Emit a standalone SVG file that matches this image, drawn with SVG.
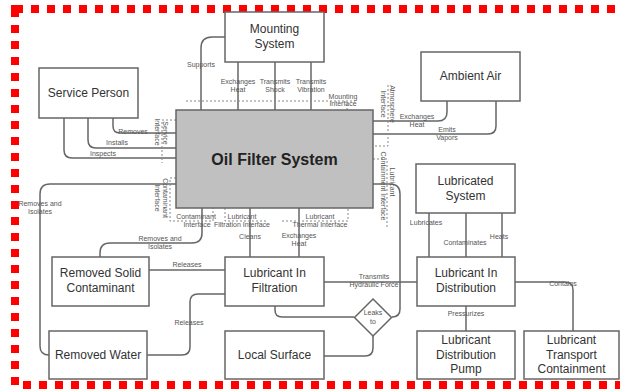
<svg xmlns="http://www.w3.org/2000/svg" width="620" height="390" viewBox="0 0 620 390">
<style>
.box{fill:#fff;stroke:#666;stroke-width:1.5}
.core{fill:#c0c0c0;stroke:#666;stroke-width:1.5}
.t{font-family:"Liberation Sans",Arial,sans-serif;font-size:12px;fill:#333;text-anchor:middle}
.tb{font-family:"Liberation Sans",Arial,sans-serif;font-size:16px;font-weight:bold;fill:#222;text-anchor:middle}
.l{font-family:"Liberation Sans",Arial,sans-serif;font-size:7px;fill:#555;text-anchor:middle}
.c{fill:none;stroke:#666;stroke-width:1.5}
.d{fill:none;stroke:#888;stroke-width:1;stroke-dasharray:2,2}
</style>
<rect x="15" y="9" width="620" height="376" fill="none" stroke="#ff0000" stroke-width="8" stroke-dasharray="8,8"/>
<g id="connectors">
<path class="c" d="M225,37 H212 Q201,37 201,48 V110"/>
<path class="c" d="M238,62 V110"/>
<path class="c" d="M275,62 V110"/>
<path class="c" d="M311,62 V110"/>
<path class="c" d="M447,101 V112 Q447,121 438,121 H373"/>
<path class="c" d="M496,101 V126 Q496,134 488,134 H373"/>
<path class="c" d="M113,118 V126 Q113,133 120,133 H176"/>
<path class="c" d="M88,118 V140 Q88,148 96,148 H176"/>
<path class="c" d="M64,118 V150 Q64,158 72,158 H176"/>
<path class="c" d="M176,184 H50 Q40,184 40,194 V346 Q40,355 49,355"/>
<path class="c" d="M202,208 V233 Q202,243 192,243 H110 Q100,243 100,253 V257"/>
<path class="c" d="M149,270 H225"/>
<path class="c" d="M147,355 H182 Q190,355 190,347 V302 Q190,294 198,294 H225"/>
<path class="c" d="M250,208 V257"/>
<path class="c" d="M299,208 V257"/>
<path class="c" d="M324,282 H417"/>
<path class="c" d="M275,306 V310 Q275,317 282,317 H354"/>
<path class="c" d="M373,336 V348 Q373,356 365,356 H324"/>
<path class="c" d="M373,184 H390 Q400,184 400,194 V309 Q400,317 392,317"/>
<path class="c" d="M429,213 V257"/>
<path class="c" d="M466,213 V257"/>
<path class="c" d="M502,213 V257"/>
<path class="c" d="M466,306 V331"/>
<path class="c" d="M515,282 H565 Q573,282 573,290 V331"/>
<path class="d" d="M186,101 H355"/>
<path class="d" d="M347,104 V110"/>
<path class="d" d="M388,85 V146 H373"/>
<path class="d" d="M176,120 H162 V163"/>
<path class="d" d="M176,178 H170 V221 H213 V208"/>
<path class="d" d="M225,208 V221 H268"/>
<path class="d" d="M282,221 H348 V208"/>
<path class="d" d="M373,159 H387 V227"/>
<text class="l" x="201" y="67">Supports</text>
<text class="l" x="238" y="84">Exchanges</text><text class="l" x="238" y="92">Heat</text>
<text class="l" x="275" y="84">Transmits</text><text class="l" x="275" y="92">Shock</text>
<text class="l" x="311" y="84">Transmits</text><text class="l" x="311" y="92">Vibration</text>
<text class="l" x="343" y="99">Mounting</text><text class="l" x="343" y="106">Interface</text>
<text class="l" transform="translate(389.5,104) rotate(90)">Atmosphere</text>
<text class="l" transform="translate(381,104) rotate(90)">Interface</text>
<text class="l" x="417" y="119">Exchanges</text><text class="l" x="417" y="127">Heat</text>
<text class="l" x="447" y="132">Emits</text><text class="l" x="447" y="140">Vapors</text>
<text class="l" x="133" y="134">Removes</text>
<text class="l" x="117" y="145">Installs</text>
<text class="l" x="103" y="156">Inspects</text>
<text class="l" transform="translate(163,133) rotate(90)">Service</text>
<text class="l" transform="translate(155,132) rotate(90)">Interface</text>
<text class="l" transform="translate(163,198) rotate(90)">Contaminant</text>
<text class="l" transform="translate(155,198) rotate(90)">Interface</text>
<text class="l" x="40" y="206">Removes and</text><text class="l" x="40" y="214">Isolates</text>
<text class="l" x="196" y="219">Contaminant</text><text class="l" x="197" y="227">Interface</text>
<text class="l" x="242" y="219">Lubricant</text><text class="l" x="242" y="227">Filtration Interface</text>
<text class="l" x="320" y="219">Lubricant</text><text class="l" x="320" y="227">Thermal Interface</text>
<text class="l" transform="translate(389.5,182) rotate(90)">Lubricant</text>
<text class="l" transform="translate(381,186) rotate(90)">Containment Interface</text>
<text class="l" x="160" y="241">Removes and</text><text class="l" x="160" y="249">Isolates</text>
<text class="l" x="250" y="239">Cleans</text>
<text class="l" x="299" y="238">Exchanges</text><text class="l" x="299" y="246">Heat</text>
<text class="l" x="187" y="267">Releases</text>
<text class="l" x="189" y="325">Releases</text>
<text class="l" x="374" y="279">Transmits</text><text class="l" x="374" y="287">Hydraulic Force</text>
<text class="l" x="426" y="225">Lubricates</text>
<text class="l" x="465" y="245">Contaminates</text>
<text class="l" x="499" y="239">Heats</text>
<text class="l" x="466" y="316">Pressurizes</text>
<text class="l" x="563" y="286">Contains</text>
</g>
<g id="service-person"><rect class="box" x="39" y="68" width="99" height="50"/><text class="t" x="88.5" y="97">Service Person</text></g>
<g id="mounting-system"><rect class="box" x="225" y="12" width="99" height="50"/><text class="t" x="274.5" y="33">Mounting</text><text class="t" x="274.5" y="48">System</text></g>
<g id="ambient-air"><rect class="box" x="421" y="52" width="99" height="49"/><text class="t" x="470.5" y="80">Ambient Air</text></g>
<g id="oil-filter-system"><rect class="core" x="176" y="110" width="197" height="98"/><text class="tb" x="274.5" y="165">Oil Filter System</text></g>
<g id="lubricated-system"><rect class="box" x="416" y="164" width="99" height="49"/><text class="t" x="465.5" y="185">Lubricated</text><text class="t" x="465.5" y="200">System</text></g>
<g id="removed-solid-contaminant"><rect class="box" x="52" y="257" width="97" height="49"/><text class="t" x="100.5" y="277">Removed Solid</text><text class="t" x="100.5" y="292">Contaminant</text></g>
<g id="removed-water"><rect class="box" x="49" y="331" width="98" height="48"/><text class="t" x="98" y="359">Removed Water</text></g>
<g id="lubricant-in-filtration"><rect class="box" x="225" y="257" width="99" height="49"/><text class="t" x="274.5" y="277">Lubricant In</text><text class="t" x="274.5" y="292">Filtration</text></g>
<g id="local-surface"><rect class="box" x="225" y="331" width="99" height="48"/><text class="t" x="274.5" y="359">Local Surface</text></g>
<g id="leaks-to"><polygon class="box" points="373,299 391.5,317.5 373,336 354.5,317.5"/><text class="l" x="373" y="315">Leaks</text><text class="l" x="373" y="324">to</text></g>
<g id="lubricant-in-distribution"><rect class="box" x="417" y="257" width="98" height="49"/><text class="t" x="466" y="277">Lubricant In</text><text class="t" x="466" y="292">Distribution</text></g>
<g id="lubricant-distribution-pump"><rect class="box" x="417" y="331" width="98" height="48"/><text class="t" x="466" y="344">Lubricant</text><text class="t" x="466" y="359">Distribution</text><text class="t" x="466" y="373">Pump</text></g>
<g id="lubricant-transport-containment"><rect class="box" x="524" y="331" width="95" height="48"/><text class="t" x="571.5" y="344">Lubricant</text><text class="t" x="571.5" y="359">Transport</text><text class="t" x="571.5" y="373">Containment</text></g>
</svg>
